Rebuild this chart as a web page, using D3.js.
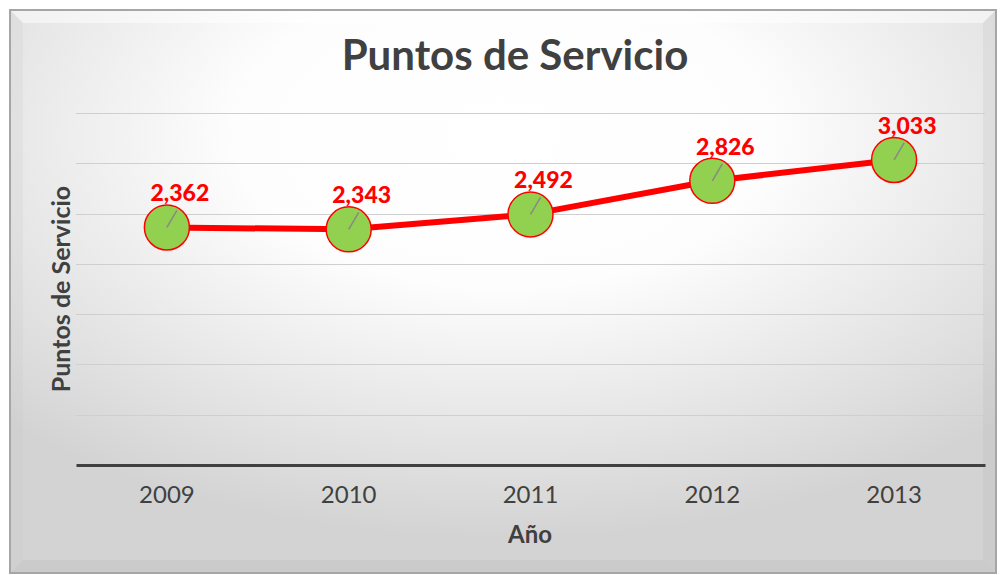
<!DOCTYPE html>
<html>
<head>
<meta charset="utf-8">
<script src="https://cdn.jsdelivr.net/npm/d3@7"></script>
<style>
  body { margin: 0; background: #fff; }
  svg { display: block; }
</style>
</head>
<body>
<svg id="chart" width="1000" height="575"></svg>
<script>
  const years = ["2009", "2010", "2011", "2012", "2013"];
  const puntos = [2362, 2343, 2492, 2826, 3033];
  const yTicks = [0, 500, 1000, 1500, 2000, 2500, 3000, 3500];

  const svg = d3.select("#chart");
  const plot = { left: 76, right: 985, top: 113, bottom: 465 };

  // background gradient + bevelled frame
  const defs = svg.append("defs");
  const bg = defs.append("radialGradient")
    .attr("id", "bg")
    .attr("cx", "50%").attr("cy", "22%").attr("r", "72%");
  bg.append("stop").attr("offset", "0%").attr("stop-color", "#ffffff");
  bg.append("stop").attr("offset", "38%").attr("stop-color", "#fdfdfd");
  bg.append("stop").attr("offset", "100%").attr("stop-color", "#d3d3d3");

  const fx0 = 10, fy0 = 10, fx1 = 996, fy1 = 573, bev = 13;
  svg.append("rect")
    .attr("x", fx0).attr("y", fy0)
    .attr("width", fx1 - fx0).attr("height", fy1 - fy0)
    .attr("fill", "url(#bg)");

  // bevel bands
  const bevels = [
    { pts: [[fx0, fy0], [fx1, fy0], [fx1 - bev, fy0 + bev], [fx0 + bev, fy0 + bev]], fill: "#ffffff", op: 0.5 },
    { pts: [[fx0, fy0], [fx0 + bev, fy0 + bev], [fx0 + bev, fy1 - bev], [fx0, fy1]], fill: "#c8c8c8", op: 0.2 },
    { pts: [[fx1, fy0], [fx1, fy1], [fx1 - bev, fy1 - bev], [fx1 - bev, fy0 + bev]], fill: "#a0a0a0", op: 0.12 },
    { pts: [[fx0, fy1], [fx0 + bev, fy1 - bev], [fx1 - bev, fy1 - bev], [fx1, fy1]], fill: "#909090", op: 0.12 }
  ];
  svg.selectAll("polygon.bevel")
    .data(bevels)
    .join("polygon")
    .attr("class", "bevel")
    .attr("points", d => d.pts.map(p => p.join(",")).join(" "))
    .attr("fill", d => d.fill)
    .attr("opacity", d => d.op);

  svg.append("rect")
    .attr("x", fx0).attr("y", fy0)
    .attr("width", fx1 - fx0).attr("height", fy1 - fy0)
    .attr("fill", "none")
    .attr("stroke", "#a6a6a6")
    .attr("stroke-width", 2);

  const x = d3.scaleBand()
    .domain(years)
    .range([plot.left, plot.right])
    .padding(0);

  const y = d3.scaleLinear()
    .domain([0, 3500])
    .range([plot.bottom, plot.top]);

  const cx = d => x(d) + x.bandwidth() / 2;

  // gridlines
  svg.append("g")
    .selectAll("line")
    .data(yTicks.filter(t => t > 0))
    .join("line")
    .attr("x1", plot.left).attr("x2", plot.right)
    .attr("y1", d => Math.round(y(d)) + 0.5)
    .attr("y2", d => Math.round(y(d)) + 0.5)
    .attr("stroke", "#cfcfcf")
    .attr("stroke-width", 1);

  // x axis
  const xAxis = svg.append("g")
    .attr("transform", `translate(0,${plot.bottom})`)
    .call(d3.axisBottom(x).tickSize(0).tickPadding(21));
  xAxis.select(".domain")
    .attr("stroke", "#404040")
    .attr("stroke-width", 3);
  xAxis.selectAll("text")
    .attr("font-family", "Lato, sans-serif")
    .attr("font-size", 24)
    .attr("fill", "#404040");

  // title
  svg.append("text")
    .attr("x", 515).attr("y", 70)
    .attr("text-anchor", "middle")
    .attr("font-family", "Lato, sans-serif")
    .attr("font-weight", 700)
    .attr("font-size", 42)
    .attr("fill", "#404040")
    .text("Puntos de Servicio");

  // axis titles
  svg.append("text")
    .attr("transform", "translate(70,289) rotate(-90)")
    .attr("text-anchor", "middle")
    .attr("font-family", "Lato, sans-serif")
    .attr("font-weight", 700)
    .attr("font-size", 25)
    .attr("fill", "#404040")
    .text("Puntos de Servicio");

  svg.append("text")
    .attr("x", 530).attr("y", 543)
    .attr("text-anchor", "middle")
    .attr("font-family", "Lato, sans-serif")
    .attr("font-weight", 700)
    .attr("font-size", 24)
    .attr("fill", "#404040")
    .text("Año");

  const pts = years.map((yr, i) => ({ year: yr, value: puntos[i] }));

  // line
  const line = d3.line()
    .x(d => cx(d.year))
    .y(d => y(d.value));

  svg.append("path")
    .datum(pts)
    .attr("d", line)
    .attr("fill", "none")
    .attr("stroke", "#ff0000")
    .attr("stroke-width", 6)
    .attr("stroke-linejoin", "round");

  // markers
  svg.append("g")
    .selectAll("circle")
    .data(pts)
    .join("circle")
    .attr("cx", d => cx(d.year))
    .attr("cy", d => y(d.value))
    .attr("r", 22.5)
    .attr("fill", "#92d050")
    .attr("stroke", "#ff0000")
    .attr("stroke-width", 1.5);

  // leader lines
  svg.append("g")
    .selectAll("line")
    .data(pts)
    .join("line")
    .attr("x1", d => cx(d.year))
    .attr("y1", d => y(d.value))
    .attr("x2", d => cx(d.year) + 10)
    .attr("y2", d => y(d.value) - 17)
    .attr("stroke", "#888888")
    .attr("stroke-width", 1.5);

  // data labels
  svg.append("g")
    .selectAll("text")
    .data(pts)
    .join("text")
    .attr("x", d => cx(d.year) + 13)
    .attr("y", d => y(d.value) - 26)
    .attr("text-anchor", "middle")
    .attr("font-family", "Lato, sans-serif")
    .attr("font-weight", 900)
    .attr("font-size", 23)
    .attr("fill", "#ff0000")
    .text(d => d3.format(",")(d.value));
</script>
</body>
</html>
